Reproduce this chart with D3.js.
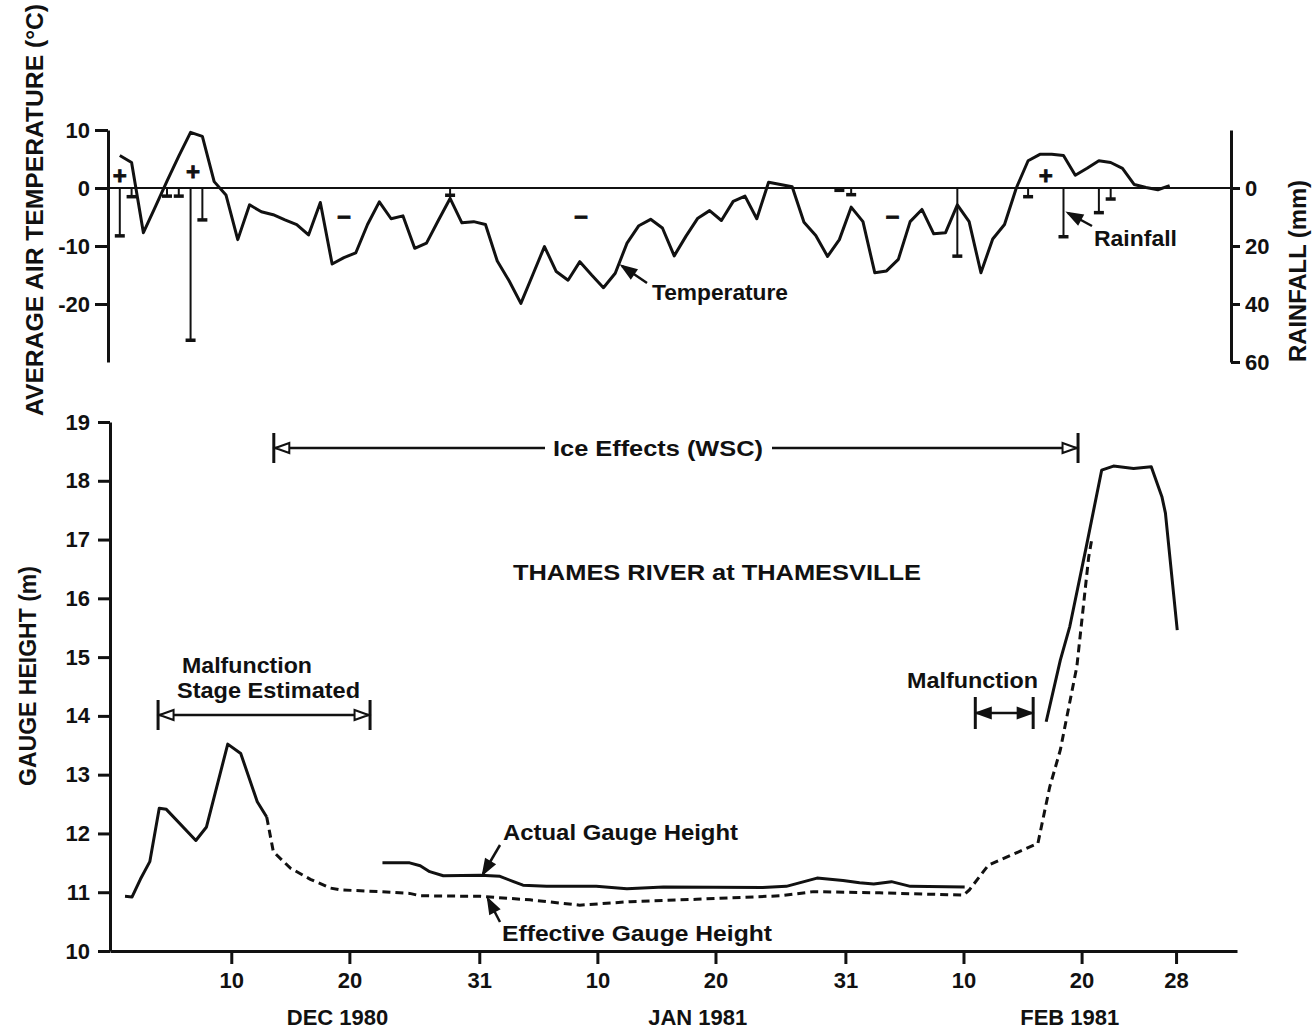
<!DOCTYPE html>
<html><head><meta charset="utf-8">
<script src="https://cdn.jsdelivr.net/npm/d3@7"></script>
<style>
body{margin:0;background:#fff;}
svg{display:block;}
text{font-family:"Liberation Sans",Arial,Helvetica,sans-serif;font-weight:bold;fill:#111;}
</style></head><body>
<svg id="c" width="1315" height="1032"></svg>
<script>
// ---------------- DATA (day 0 = 1 Dec 1980) ----------------
// Average daily air temperature (°C), Dec 1 1980 ... Feb 28 1981
const tempC = [5.6,4.4,-7.7,-3.3,1.2,5.5,9.6,8.9,1.1,-1.2,
  -8.9,-2.9,-4.1,-4.6,-5.5,-6.3,-8.1,-2.5,-13.1,-12.0,
  -11.2,-6.3,-2.4,-5.3,-4.8,-10.4,-9.5,-5.6,-1.8,-6.0,
  -5.8,-6.3,-12.6,-16.0,-19.9,-15.0,-10.1,-14.4,-15.9,-12.7,
  -15.0,-17.2,-14.7,-9.5,-6.5,-5.4,-6.9,-11.7,-8.3,-5.2,
  -3.9,-5.6,-2.3,-1.4,-5.3,1.0,0.6,0.2,-5.9,-8.2,
  -11.8,-8.9,-3.3,-5.8,-14.6,-14.3,-12.3,-5.8,-3.7,-7.9,
  -7.7,-2.9,-5.8,-14.6,-8.8,-6.3,0.0,4.7,5.8,5.8,
  5.6,2.2,3.4,4.7,4.4,3.4,0.6,0.1,-0.3,0.4];
// Daily rainfall (mm)
const rainDay = [0,1,4,5,6,7,28,61,62,71,77,80,83,84];
const rainMm  = [16.5,3,2.8,2.8,52.5,11,2.5,0.8,2.3,23.5,3,16.8,8.5,3.8];
// Signs of temperature (above / below 0 °C) marked on the chart
const signDay  = [0,6.2,78.5,19,39.1,65.5];
const signTemp = [2.2,2.9,2.2,-5.0,-5.0,-5.0];
const signText = ["+","+","+","\u2212","\u2212","\u2212"];
// Actual gauge height (m), three solid segments
const actual1Day = [0,0.6,1.3,2.1,2.9,3.5,6.0,6.9,8.7,9.8,11.2,12.0];
const actual1    = [10.93,10.92,11.22,11.52,12.43,12.41,11.88,12.11,13.52,13.36,12.54,12.28];
const actual2Day = [21.8,24.1,25.0,25.8,26.95,30.1,31.75,32.9,33.7,35.7,39.9,42.5,45.6,54.0,56.0,58.6,60.8,62.2,63.4,64.9,66.5,71.1];
const actual2    = [11.5,11.5,11.45,11.35,11.28,11.29,11.27,11.18,11.12,11.1,11.1,11.06,11.09,11.08,11.1,11.24,11.2,11.16,11.14,11.18,11.1,11.09];
const actual3Day = [78.0,79.2,80.0,81.4,82.7,83.7,85.4,86.9,87.8,88.1,89.1];
const actual3    = [13.9,14.95,15.52,16.88,18.18,18.25,18.21,18.24,17.73,17.45,15.46];
// Effective gauge height (m), dashed
const effDay = [12.0,12.56,14.0,15.7,17.4,18.2,21.6,24.1,25.0,30.1,34.3,38.5,42.8,48.4,55.5,58.3,63.9,71.0,71.5,73.1,77.3,78.3,79.2,79.7,80.6,81.6,81.9];
const effH   = [12.28,11.69,11.41,11.22,11.07,11.04,11.01,10.98,10.94,10.93,10.87,10.78,10.84,10.88,10.94,11.01,10.99,10.95,11.04,11.46,11.83,12.79,13.42,13.93,14.84,16.7,17.05];
// Tick labels
const tempTicks = [10,0,-10,-20];
const tempTickLabels = ["10","0","-10","-20"];
const rainTicks = [0,20,40,60];
const gaugeTicks = [10,11,12,13,14,15,16,17,18,19];
const dayTicks = [9,19,30,40,50,61,71,81,89];
const dayTickLabels = ["10","20","31","10","20","31","10","20","28"];
const monthDay = [18.0,48.5,80.0];
const monthLabels = ["DEC 1980","JAN 1981","FEB 1981"];
// Annotated periods (days)
const iceSpan = [12.6, 80.7];
const malf1Span = [2.8, 20.75];
const malf2Span = [72.0, 76.9];

// ---------------- SCALES ----------------
const svg = d3.select("#c");
const xT = d3.scaleLinear().domain([-1.0, 94.2]).range([108, 1231]);
const yT = d3.scaleLinear().domain([-30, 10]).range([362, 130]);
const yR = d3.scaleLinear().domain([-20, 60]).range([130, 362]);
const xB = d3.scaleLinear().domain([-1.27, 94.16]).range([110, 1237]);
const yB = d3.scaleLinear().domain([10, 19]).range([951, 422]);
const ink = "#111";

function styleAxis(g, fs){
  g.attr("font-family", null).attr("font-size", null);
  g.select(".domain").attr("stroke", ink).attr("stroke-width", 3);
  g.selectAll(".tick line").attr("stroke", ink).attr("stroke-width", 3);
  g.selectAll(".tick text").attr("font-size", fs).attr("fill", ink);
}

// ---------------- TOP PANEL ----------------
svg.append("line").attr("x1", xT.range()[0]).attr("x2", xT.range()[1])
  .attr("y1", yT(0)).attr("y2", yT(0)).attr("stroke", ink).attr("stroke-width", 2);

svg.append("g").attr("transform", `translate(${xT.range()[0]},0)`)
  .call(d3.axisLeft(yT).tickValues(tempTicks).tickSize(13).tickSizeOuter(0).tickPadding(5)
    .tickFormat((d,i)=>tempTickLabels[i]))
  .call(g=>styleAxis(g, 22));

svg.append("g").attr("transform", `translate(${xT.range()[1]},0)`)
  .call(d3.axisRight(yR).tickValues(rainTicks).tickSize(9).tickSizeOuter(0).tickPadding(5))
  .call(g=>styleAxis(g, 22));

// rainfall stems
const rain = rainDay.map((d,i)=>({d, r: rainMm[i]}));
const rg = svg.append("g");
rg.selectAll("line.stem").data(rain).join("line").attr("class","stem")
  .attr("x1", d=>xT(d.d)).attr("x2", d=>xT(d.d))
  .attr("y1", yR(0)).attr("y2", d=>yR(d.r))
  .attr("stroke", ink).attr("stroke-width", 2);
rg.selectAll("line.cap").data(rain).join("line").attr("class","cap")
  .attr("x1", d=>xT(d.d)-5).attr("x2", d=>xT(d.d)+5)
  .attr("y1", d=>yR(d.r)).attr("y2", d=>yR(d.r))
  .attr("stroke", ink).attr("stroke-width", 3.5);

// temperature line
svg.append("path").datum(tempC)
  .attr("d", d3.line().x((d,i)=>xT(i)).y(d=>yT(d)))
  .attr("fill","none").attr("stroke", ink).attr("stroke-width", 3).attr("stroke-linejoin","round");

// signs
svg.append("g").selectAll("text").data(signText).join("text")
  .attr("x", (d,i)=>xT(signDay[i])).attr("y", (d,i)=>yT(signTemp[i]))
  .attr("dy","0.35em").attr("text-anchor","middle").attr("font-size", 24)
  .attr("stroke", ink).attr("stroke-width", 0.8).text(d=>d);

// ---------------- BOTTOM PANEL ----------------
svg.append("g").attr("transform", `translate(${xB.range()[0]},0)`)
  .call(d3.axisLeft(yB).tickValues(gaugeTicks).tickSize(12).tickSizeOuter(0).tickPadding(8))
  .call(g=>styleAxis(g, 22));

svg.append("g").attr("transform", `translate(0,${yB.range()[0]})`)
  .call(d3.axisBottom(xB).tickValues(dayTicks).tickSize(13).tickSizeOuter(0).tickPadding(8)
    .tickFormat((d,i)=>dayTickLabels[i]))
  .call(g=>styleAxis(g, 22));

svg.append("g").selectAll("text").data(monthLabels).join("text")
  .attr("x",(d,i)=>xB(monthDay[i])).attr("y",1025).attr("text-anchor","middle")
  .attr("font-size",22).text(d=>d);

const gl = d3.line().x(d=>xB(d[0])).y(d=>yB(d[1]));
function seg(days, vals){ return days.map((d,i)=>[d, vals[i]]); }
[[actual1Day,actual1],[actual2Day,actual2],[actual3Day,actual3]].forEach(([a,b])=>{
  svg.append("path").datum(seg(a,b)).attr("d", gl)
    .attr("fill","none").attr("stroke", ink).attr("stroke-width", 3).attr("stroke-linejoin","round");
});
svg.append("path").datum(seg(effDay,effH)).attr("d", gl)
  .attr("fill","none").attr("stroke", ink).attr("stroke-width", 3)
  .attr("stroke-dasharray","8,5");

// ---------------- ANNOTATIONS ----------------
function arrowHead(x, y, ang, filled){
  const L = 14, W = 5;
  const c = Math.cos(ang), s = Math.sin(ang);
  const bx = x - L*c, by = y - L*s;
  const pts = [[x,y],[bx - W*s, by + W*c],[bx + W*s, by - W*c]];
  svg.append("path").attr("d", "M"+pts.map(p=>p.join(",")).join("L")+"Z")
    .attr("fill", filled ? ink : "#fff").attr("stroke", ink).attr("stroke-width", 2);
}
function arrow(x1,y1,x2,y2){
  svg.append("line").attr("x1",x1).attr("y1",y1).attr("x2",x2).attr("y2",y2)
    .attr("stroke",ink).attr("stroke-width",2.5);
  arrowHead(x2,y2,Math.atan2(y2-y1,x2-x1),true);
}
function span(d0, d1, y, half, gaps, filled){
  const xa = xB(d0), xb = xB(d1);
  [xa, xb].forEach(x=>svg.append("line").attr("x1",x).attr("x2",x)
    .attr("y1",y-half).attr("y2",y+half).attr("stroke",ink).attr("stroke-width",3));
  const segs = gaps ? [[xa, gaps[0]],[gaps[1], xb]] : [[xa, xb]];
  segs.forEach(s=>svg.append("line").attr("x1",s[0]).attr("x2",s[1]).attr("y1",y).attr("y2",y)
    .attr("stroke",ink).attr("stroke-width",2.5));
  arrowHead(xa+1.5, y, Math.PI, filled);
  arrowHead(xb-1.5, y, 0, filled);
}
function label(txt, x, y, len, anchor){
  const t = svg.append("text").attr("x",x).attr("y",y).attr("font-size",22)
    .attr("text-anchor", anchor||"start").text(txt);
  if(len) t.attr("textLength",len).attr("lengthAdjust","spacingAndGlyphs");
  return t;
}

span(iceSpan[0], iceSpan[1], 448, 15, [545, 772], false);
label("Ice Effects (WSC)", 553, 456, 210);
label("THAMES RIVER at THAMESVILLE", 513, 580, 408);

span(malf1Span[0], malf1Span[1], 715, 15, null, false);
label("Malfunction", 182, 673, 130);
label("Stage Estimated", 177, 698, 183);

span(malf2Span[0], malf2Span[1], 713, 16, null, true);
label("Malfunction", 907, 688, 131);

label("Actual Gauge Height", 503, 840, 235);
arrow(500, 845, 483, 874);
label("Effective Gauge Height", 502, 941, 270);
arrow(500, 922, 488, 899);

label("Temperature", 652, 300, 136);
arrow(647, 283, 622, 266);
label("Rainfall", 1094, 246, 83);
arrow(1092, 226, 1068, 213);

// axis titles
function vtitle(txt, cx, cy, len){
  svg.append("text").attr("transform",`translate(${cx},${cy}) rotate(-90)`)
    .attr("text-anchor","middle").attr("dy","0.35em").attr("font-size",23)
    .attr("textLength",len).attr("lengthAdjust","spacingAndGlyphs").text(txt);
}
vtitle("AVERAGE AIR TEMPERATURE (\u00B0C)", 35, 210, 412);
vtitle("GAUGE HEIGHT (m)", 28, 676, 220);
vtitle("RAINFALL (mm)", 1298, 271, 182);
</script>
</body></html>
